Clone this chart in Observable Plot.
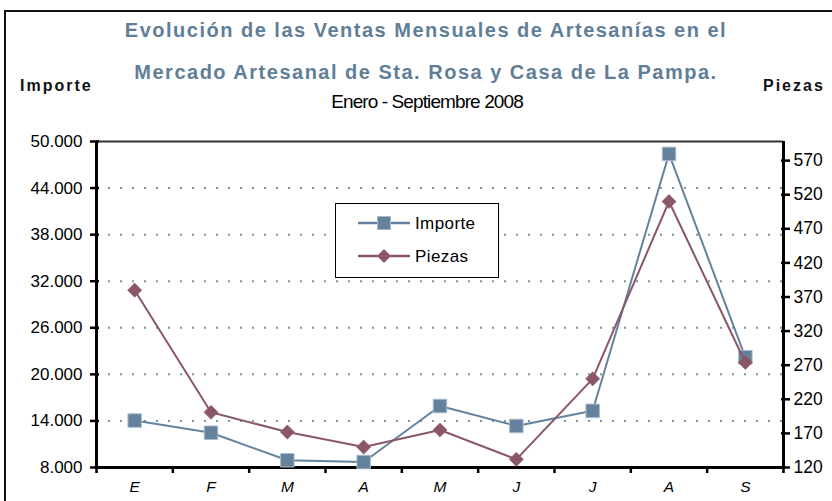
<!DOCTYPE html>
<html><head><meta charset="utf-8">
<script src="https://cdn.jsdelivr.net/npm/d3@7"></script>
<script src="https://cdn.jsdelivr.net/npm/@observablehq/plot@0.6"></script>
<style>
html,body{margin:0;padding:0;background:#fff;}
body{width:832px;height:501px;overflow:hidden;position:relative;font-family:"Liberation Sans",Arial,sans-serif;}
#frame{position:absolute;left:4px;top:10px;width:840px;height:500px;border:2.5px solid #111;box-sizing:border-box;}
.t{position:absolute;white-space:nowrap;line-height:1;}
.title{font-weight:bold;font-size:20px;color:#5f7e98;letter-spacing:1.5px;left:0;width:852px;text-align:center;}
.side{font-weight:bold;font-size:16px;color:#111;letter-spacing:2px;}
#sub{font-size:19px;letter-spacing:-0.9px;left:0;width:854px;text-align:center;color:#000;}
#chart{position:absolute;left:0;top:0;}
#legend{position:absolute;left:335px;top:203px;width:164px;height:75px;border:1.5px solid #000;background:#fff;box-sizing:border-box;}
#legend .row{position:absolute;left:0;height:20px;}
#legend svg{position:absolute;left:22px;top:0;}
#legend span{position:absolute;left:79px;top:1px;font-size:17px;letter-spacing:0.4px;color:#000;white-space:nowrap;}
</style></head>
<body>
<div id="frame"></div>
<div id="chart"></div>
<div class="t title" style="top:20px">Evolución de las Ventas Mensuales de Artesanías en el</div>
<div class="t title" style="top:62px">Mercado Artesanal de Sta. Rosa y Casa de La Pampa.</div>
<div class="t side" style="left:20px;top:78px">Importe</div>
<div class="t side" style="left:763px;top:78px">Piezas</div>
<div class="t" id="sub" style="top:92px">Enero - Septiembre 2008</div>
<div id="legend"></div>
<script>
// ---- data ----
const months = ["E", "F", "M", "A", "M", "J", "J", "A", "S"];
const importe = [14050, 12480, 8930, 8710, 15920, 13350, 15300, 48400, 22200];
const piezas = [380, 201, 172, 150, 175, 132, 250, 510, 274];
const importeTicks = [8000, 14000, 20000, 26000, 32000, 38000, 44000, 50000];
const gridTicks = [14000, 20000, 26000, 32000, 38000, 44000];
const piezasTicks = [120, 170, 220, 270, 320, 370, 420, 470, 520, 570];
const seriesNames = ["Importe", "Piezas"];
const colImporte = "#64829e", colPiezas = "#8a5668";

// right axis (Piezas) mapped onto the left (Importe) scale
const toLeft = d3.scaleLinear().domain([120, 598]).range([8000, 50000]);
const data = months.map((m, i) => ({i, m, importe: importe[i], piezas: piezas[i]}));
const fmt = d => d3.format(",")(d).replace(/,/g, ".");

const plot = Plot.plot({
  width: 832, height: 501,
  marginLeft: 96, marginRight: 49, marginTop: 141, marginBottom: 34,
  style: {fontFamily: "'Liberation Sans', Arial, sans-serif", fontSize: "16px", background: "transparent", color: "#000"},
  x: {domain: [-0.5, 8.5], axis: null, label: null},
  y: {domain: [8000, 50000], axis: null, label: null},
  marks: [
    Plot.gridY(gridTicks, {stroke: "#7d95ab", strokeOpacity: 1, strokeWidth: 2, strokeDasharray: "2,10", strokeDashoffset: -12}),
    Plot.ruleY([50000], {stroke: "#333", strokeWidth: 2}),
    // axis lines
    Plot.ruleX([-0.5], {stroke: "#000", strokeWidth: 3}),
    Plot.ruleX([8.5], {stroke: "#000", strokeWidth: 3}),
    Plot.ruleY([8000], {stroke: "#000", strokeWidth: 3}),
    // left axis ticks + labels
    Plot.axisY(importeTicks, {anchor: "left", tickSize: 9, dx: 3, strokeWidth: 2.5, tickFormat: () => "", label: null}),
    Plot.axisY(importeTicks, {anchor: "left", tickSize: 0, tickPadding: 14, tickFormat: fmt, fontSize: 17, label: null}),
    // right axis ticks + labels
    Plot.axisY(piezasTicks.map(toLeft), {anchor: "right", tickSize: 9, dx: -3, strokeWidth: 2.5, tickFormat: () => "", label: null}),
    Plot.axisY(piezasTicks.map(toLeft), {anchor: "right", tickSize: 0, tickPadding: 10, tickFormat: d => Math.round(toLeft.invert(d)), fontSize: 17.5, label: null}),
    // x axis ticks (between categories) + labels
    Plot.axisX(d3.range(10).map(i => i - 0.5), {anchor: "bottom", tickSize: 6, strokeWidth: 2.5, tickFormat: () => "", label: null}),
    Plot.axisX(d3.range(9), {anchor: "bottom", tickSize: 0, tickPadding: 13, tickFormat: i => months[i], fontStyle: "italic", fontSize: 15.5, label: null}),
    // series
    Plot.line(data, {x: "i", y: "importe", stroke: colImporte, strokeWidth: 2}),
    Plot.dot(data, {x: "i", y: "importe", symbol: "square", r: 7.6, fill: colImporte, stroke: "#a7bacb", strokeWidth: 1}),
    Plot.line(data, {x: "i", y: d => toLeft(d.piezas), stroke: colPiezas, strokeWidth: 2}),
    Plot.dot(data, {x: "i", y: d => toLeft(d.piezas), symbol: "diamond2", r: 6.4, fill: colPiezas, stroke: colPiezas, strokeWidth: 0.5})
  ]
});
document.getElementById("chart").appendChild(plot);

// legend
const leg = document.getElementById("legend");
const legendDefs = [
  {name: seriesNames[0], color: colImporte, sym: "square", top: 9},
  {name: seriesNames[1], color: colPiezas, sym: "diamond", top: 42}
];
for (const d of legendDefs) {
  const row = document.createElement("div");
  row.className = "row";
  row.style.top = d.top + "px";
  row.style.width = "160px";
  const marker = d.sym === "square"
    ? `<rect x="19.5" y="3.5" width="13" height="13" fill="${d.color}" stroke="#a7bacb" stroke-width="1"/>`
    : `<path d="M26,3 L33,10 L26,17 L19,10 Z" fill="${d.color}"/>`;
  row.innerHTML = `<svg width="54" height="20"><line x1="0" x2="52" y1="10" y2="10" stroke="${d.color}" stroke-width="2.5"/>${marker}</svg><span>${d.name}</span>`;
  leg.appendChild(row);
}
</script>
</body></html>
